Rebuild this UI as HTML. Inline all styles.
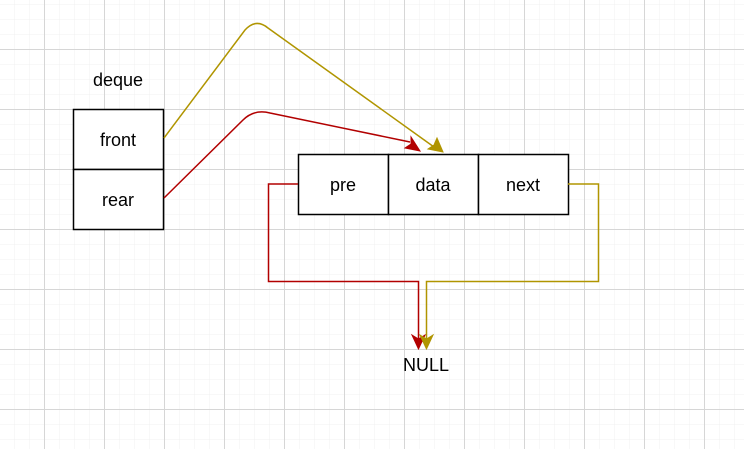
<!DOCTYPE html>
<html><head><meta charset="utf-8"><style>
html,body{margin:0;padding:0;background:#fff;}
svg{display:block;font-family:"Liberation Sans",sans-serif;}
</style></head><body>
<svg width="744" height="449" viewBox="0 0 744 449" xmlns="http://www.w3.org/2000/svg">
<defs>
<pattern id="minor" x="-1" y="4" width="15" height="15" patternUnits="userSpaceOnUse">
<path d="M0 0H15M0 0V15" stroke="#f0f0f0" stroke-width="1" fill="none"/>
</pattern>
<pattern id="major" x="44" y="49" width="60" height="60" patternUnits="userSpaceOnUse">
<path d="M0 0.5H60M0.5 0V60" stroke="#d6d6d6" stroke-width="1" fill="none"/>
</pattern>
</defs>
<rect width="744" height="449" fill="url(#minor)"/>
<rect width="744" height="449" fill="url(#major)"/>

<text x="118" y="86" font-size="18" text-anchor="middle">deque</text>
<rect x="73.5" y="109.5" width="90" height="60" fill="#fff" stroke="#000" stroke-width="1.5"/>
<rect x="73.5" y="169.5" width="90" height="60" fill="#fff" stroke="#000" stroke-width="1.5"/>
<text x="118" y="146" font-size="18" text-anchor="middle">front</text>
<text x="118" y="206" font-size="18" text-anchor="middle">rear</text>

<rect x="298.5" y="154.5" width="90" height="60" fill="#fff" stroke="#000" stroke-width="1.5"/>
<rect x="388.5" y="154.5" width="90" height="60" fill="#fff" stroke="#000" stroke-width="1.5"/>
<rect x="478.5" y="154.5" width="90" height="60" fill="#fff" stroke="#000" stroke-width="1.5"/>
<text x="343" y="191" font-size="18" text-anchor="middle">pre</text>
<text x="433" y="191" font-size="18" text-anchor="middle">data</text>
<text x="523" y="191" font-size="18" text-anchor="middle">next</text>
<text x="426" y="371" font-size="18" text-anchor="middle">NULL</text>

<!-- gold front -> data -->
<path d="M164 138 L245 30 Q256 18 268 28 L434 147" fill="none" stroke="#B09500" stroke-width="1.5"/>
<path d="M443 152 L428 149 L434 145 L437 138 Z" fill="#B09500" stroke="#B09500"/>
<!-- red rear -> data -->
<path d="M164 198 L243 120 Q254 109 270 113 L410 142" fill="none" stroke="#B20000" stroke-width="1.5"/>
<path d="M420 151 L405 148 L411 144 L411 137 Z" fill="#B20000" stroke="#B20000"/>
<!-- red pre -> NULL -->
<path d="M298 184 H268.5 V281.5 H418.5 V340" fill="none" stroke="#B20000" stroke-width="1.5"/>
<path d="M418.5 349 L412 335 L418.5 339 L425 335 Z" fill="#B20000" stroke="#B20000"/>
<!-- gold next -> NULL -->
<path d="M568 184 H598.5 V281.5 H426.5 V340" fill="none" stroke="#B09500" stroke-width="1.5"/>
<path d="M426.5 349 L420 335 L426.5 339 L433 335 Z" fill="#B09500" stroke="#B09500"/>
</svg>
</body></html>
